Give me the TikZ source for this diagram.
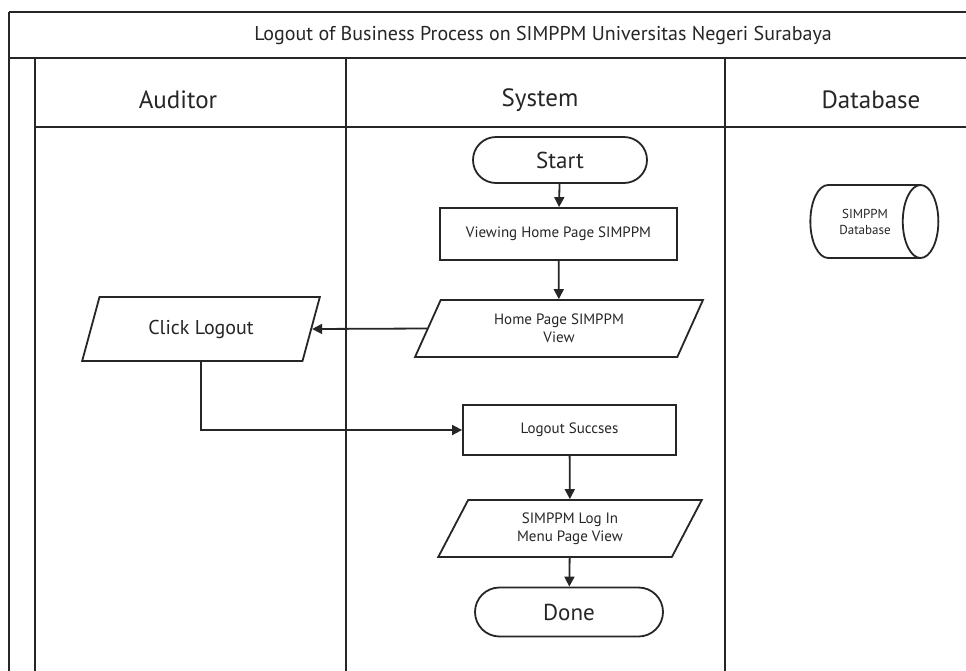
\documentclass[tikz,border=0pt]{standalone}
\usepackage{fontspec}
\setmainfont{PT Sans}
\usetikzlibrary{shapes.geometric,shapes.misc,arrows.meta}
\begin{document}
\begin{tikzpicture}[x=1pt,y=-1pt,
  every node/.style={text=black!85},
  lane/.style={line width=2pt,draw=black!85},
  box/.style={draw=black!85,line width=1.8pt,rectangle,align=center,inner sep=0pt},
  term/.style={draw=black!85,line width=1.8pt,rounded rectangle,align=center,inner sep=0pt},
  io/.style={draw=black!85,line width=1.8pt,trapezium,trapezium left angle=64,trapezium right angle=116,trapezium stretches=true,align=center,inner sep=0pt},
  db/.style={draw=black!85,line width=1.8pt,cylinder,shape aspect=1.4,align=center,inner sep=0pt},
  conn/.style={line width=1.8pt,draw=black!85,-{Triangle[length=10pt,width=10pt]}},
  hdr/.style={font=\fontsize{25}{30}\selectfont},
  small/.style={font=\fontsize{15}{18}\selectfont}]
\useasboundingbox[fill=white] (0,0) rectangle (966,670);
% lanes
\draw[lane] (9,12) -- (970,12);
\draw[lane] (9,12) -- (9,672);
\draw[lane] (9,58) -- (970,58);
\draw[lane] (35,58) -- (35,672);
\draw[lane] (346,58) -- (346,672);
\draw[lane] (725,58) -- (725,672);
\draw[lane] (35,127) -- (970,127);
\node[font=\fontsize{20}{24}\selectfont] (title) at (543,35) {Logout of Business Process on SIMPPM Universitas Negeri Surabaya};
\node[hdr] (hA) at (178,100) {Auditor};
\node[hdr] (hS) at (540,100) {System};
\node[hdr] (hD) at (871,100) {Database};
% nodes
\node[term,minimum width=174pt,minimum height=46pt,font=\fontsize{23}{27}\selectfont] (start) at (560,160) {Start};
\node[box,minimum width=237pt,minimum height=52pt,small] (view) at (558.5,234) {Viewing Home Page SIMPPM};
\node[io,minimum width=288pt,minimum height=57pt,small] (home) at (559,328.5) {Home Page SIMPPM\\View};
\node[io,minimum width=238pt,minimum height=64pt,font=\fontsize{20}{24}\selectfont] (click) at (201,329) {Click Logout};
\node[box,minimum width=213pt,minimum height=50pt,small] (logout) at (569.5,430) {Logout Succses};
\node[io,minimum width=264pt,minimum height=57pt,small] (login) at (570,528.5) {SIMPPM Log In\\Menu Page View};
\node[term,minimum width=188pt,minimum height=49pt,font=\fontsize{23}{27}\selectfont] (done) at (569,612) {Done};
\node[db,minimum width=73pt,minimum height=128pt,font=\fontsize{13}{16}\selectfont] (dbase) at (865,221.5) {SIMPPM\\Database};
% connectors
\draw[conn] (start) -- (view);
\draw[conn] (view) -- (home);
\draw[conn] (home.west) -- (click.east);
\draw[conn] (click.south) |- (logout.west);
\draw[conn] (logout) -- (login);
\draw[conn] (login) -- (done);
\end{tikzpicture}
\end{document}
